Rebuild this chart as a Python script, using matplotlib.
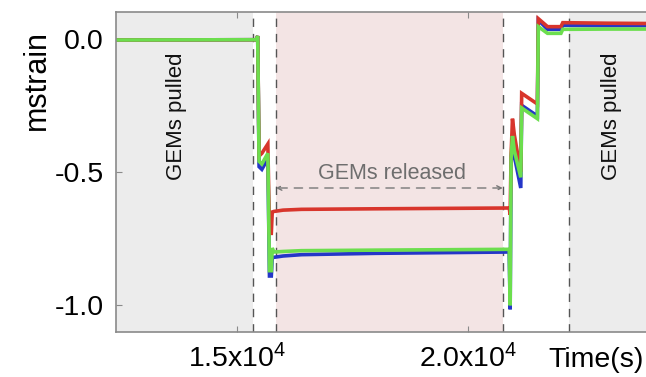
import numpy as np
import matplotlib
matplotlib.use('Agg')
import matplotlib.pyplot as plt

plt.rcParams['font.family'] = ['Liberation Sans', 'DejaVu Sans']
plt.rcParams['mathtext.default'] = 'regular'

# time (s) and strain (mstrain) for the three sensors
t = [12380, 15330, 15420, 15450, 15480, 15540, 15670, 15705, 15745, 15765, 15800,
     16000, 16400, 18000, 20900, 20920, 20940, 20970, 21010, 21150, 21170,
     21510, 21530, 21730, 22020, 22060, 23000, 24600]
red = [-0.005, -0.004, -0.004, 0.010, -0.440, -0.430, -0.395, -0.730, -0.730, -0.650, -0.648,
       -0.643, -0.640, -0.638, -0.635, -0.660, -0.440, -0.300, -0.360, -0.500, -0.205,
       -0.245, 0.075, 0.045, 0.045, 0.060, 0.058, 0.056]
green = [-0.005, -0.004, -0.004, 0.010, -0.460, -0.470, -0.430, -0.870, -0.870, -0.785, -0.800,
         -0.798, -0.795, -0.793, -0.790, -1.000, -0.450, -0.365, -0.420, -0.520, -0.260,
         -0.300, 0.045, 0.020, 0.020, 0.035, 0.036, 0.036]
blue = [-0.005, -0.004, -0.004, 0.010, -0.480, -0.490, -0.450, -0.890, -0.890, -0.820, -0.820,
        -0.815, -0.810, -0.805, -0.800, -1.015, -0.470, -0.380, -0.440, -0.560, -0.250,
        -0.290, 0.070, 0.035, 0.035, 0.050, 0.049, 0.049]

events = [15346, 15844, 20759, 22186]
xlim = (12380, 24600)
ylim = (-1.1, 0.1)

fig = plt.figure(figsize=(6.46, 3.77), dpi=100)
ax = fig.add_axes([116 / 646, 45 / 377, 564 / 646, 320 / 377])
ax.set_xlim(*xlim)
ax.set_ylim(*ylim)

ax.axvspan(xlim[0], events[0], color='#ececec', lw=0)
ax.axvspan(events[1], events[2], color='#f3e4e4', lw=0)
ax.axvspan(events[3], xlim[1], color='#ececec', lw=0)
for e in events:
    ax.axvline(e, color='#555555', lw=1, dashes=(6, 5))

ax.plot(t, blue, color='#2436c8', lw=2.6, solid_joinstyle='miter')
ax.plot(t, red, color='#d8352c', lw=2.6, solid_joinstyle='miter')
ax.plot(t, green, color='#6cde4e', lw=2.6, solid_joinstyle='miter')

ax.text(13700, -0.29, 'GEMs pulled', rotation=90, ha='center', va='center', fontsize=16, color='#111111')
ax.text(23120, -0.29, 'GEMs pulled', rotation=90, ha='center', va='center', fontsize=16, color='#111111')
ax.text(18356, -0.505, 'GEMs released', ha='center', va='center', fontsize=15.5, color='#6e6e6e')
ax.annotate('', xy=(events[1], -0.56), xytext=(events[2], -0.56),
            arrowprops=dict(arrowstyle='<->', color='#777777', lw=1, linestyle=(0, (6, 5)),
                            shrinkA=0, shrinkB=0, mutation_scale=8))

for s in ax.spines.values():
    s.set_color('#8a8a8a')
    s.set_linewidth(1.2)

ax.set_xticks([15000, 20000])
ax.set_xticklabels(['1.5x10$^4$', '2.0x10$^4$'])
ax.set_yticks([0.0, -0.5, -1.0])
ax.set_yticklabels(['0.0', '-0.5', '-1.0'])
ax.tick_params(direction='in', length=4, color='#8a8a8a', labelsize=20.5, pad=9,
               top=True, right=False)

fig.text(37 / 646, 1 - 80 / 377, 'mstrain', rotation=90, ha='center', va='center', fontsize=22)
fig.text(548 / 646, 1 - 360 / 377, 'Time(s)', ha='left', va='center', fontsize=20.5)

fig.savefig('out.png', dpi=100)
